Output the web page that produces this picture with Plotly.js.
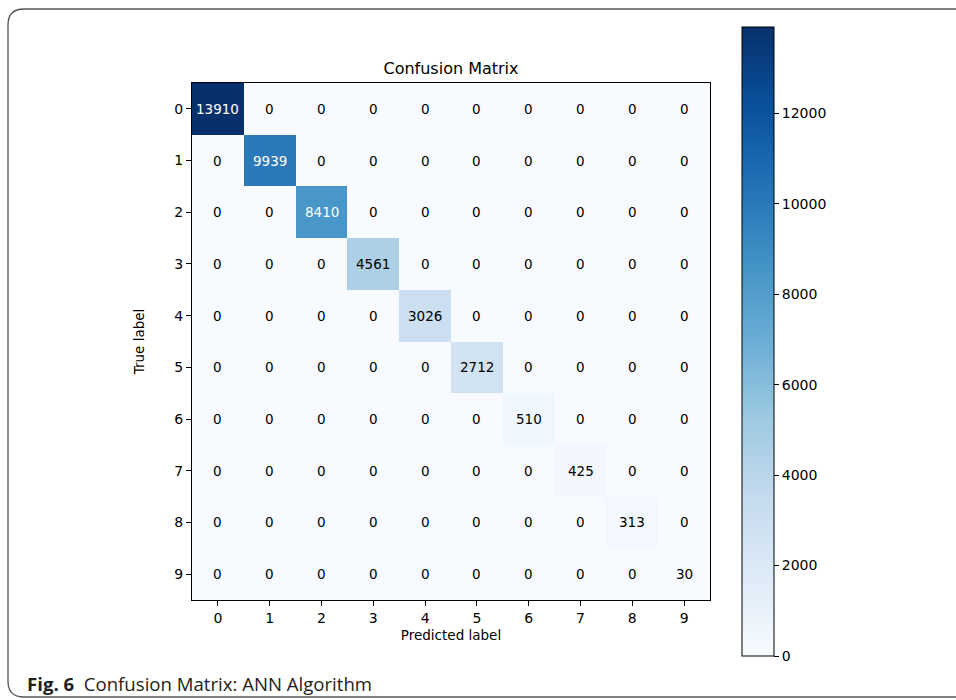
<!DOCTYPE html>
<html>
<head>
<meta charset="utf-8">
<script src="https://cdn.plot.ly/plotly-3.0.1.min.js"></script>
<style>
html,body{margin:0;padding:0;background:#fff;}
#chart{width:956px;height:700px;}
</style>
</head>
<body>
<div id="chart"></div>
<script>
const predictedLabels = [0,1,2,3,4,5,6,7,8,9];
const trueLabels = [0,1,2,3,4,5,6,7,8,9];
const diagonalCounts = [13910, 9939, 8410, 4561, 3026, 2712, 510, 425, 313, 30];
const colorbarTicks = [0, 2000, 4000, 6000, 8000, 10000, 12000];

// confusion matrix rows (true label) x columns (predicted label)
const matrix = trueLabels.map((t, i) => predictedLabels.map((p, j) => i === j ? diagonalCounts[i] : 0));

const zmax = Math.max(...diagonalCounts);
const thresh = zmax / 2;

const blues = [
  [0.0, '#f7fbff'], [0.125, '#deebf7'], [0.25, '#c6dbef'], [0.375, '#9ecae1'],
  [0.5, '#6baed6'], [0.625, '#4292c6'], [0.75, '#2171b5'], [0.875, '#08519c'], [1.0, '#08306b']
];

const annotations = [];
matrix.forEach((row, i) => row.forEach((v, j) => {
  annotations.push({
    x: predictedLabels[j], y: trueLabels[i], xref: 'x', yref: 'y',
    text: String(v), showarrow: false,
    font: {family: 'DejaVu Sans', size: 13.5, color: v > thresh ? '#ffffff' : '#000000'}
  });
}));

annotations.push({
  xref: 'paper', yref: 'paper', x: (25 - 192) / 518, y: (600 - 683) / 517,
  xanchor: 'left', yanchor: 'middle', showarrow: false,
  text: '<b>Fig. 6</b>  Confusion Matrix: ANN Algorithm',
  font: {family: 'Open Sans', size: 18.6, color: '#231f20'}
});

const px = x => (x - 192) / 518;
const py = y => (600 - y) / 517;
const L = px(8), T = py(9), B = py(697), R = px(990);
const rx = 16 / 518, ry = 16 / 517;
const borderPath = `M ${R} ${T} L ${L + rx} ${T} Q ${L} ${T} ${L} ${T - ry} L ${L} ${B + ry} Q ${L} ${B} ${L + rx} ${B} L ${R} ${B}`;

const trace = {
  type: 'heatmap',
  x: predictedLabels, y: trueLabels, z: matrix,
  zmin: 0, zmax: zmax,
  colorscale: blues, showscale: true, xgap: 0, ygap: 0,
  hoverinfo: 'z',
  colorbar: {
    x: px(742), xanchor: 'left', xref: 'paper', thickness: 32, thicknessmode: 'pixels',
    y: 0.5, yanchor: 'middle', len: (656 - 27) / 517, lenmode: 'fraction', ypad: 0, xpad: 0,
    outlinewidth: 1, outlinecolor: '#000',
    tickvals: colorbarTicks, ticktext: colorbarTicks.map(String),
    ticks: 'outside', ticklen: 5, tickcolor: '#000', tickwidth: 1,
    tickfont: {family: 'DejaVu Sans', size: 14, color: '#000'}
  }
};

const layout = {
  width: 956, height: 700,
  margin: {l: 192, r: 246, t: 83, b: 100},
  paper_bgcolor: '#fff', plot_bgcolor: '#fff',
  title: {text: 'Confusion Matrix', x: 451 / 956, xanchor: 'center', y: 1 - 68 / 700, yanchor: 'middle',
          font: {family: 'DejaVu Sans', size: 16, color: '#000'}},
  xaxis: {
    tickvals: predictedLabels, ticktext: predictedLabels.map(String),
    range: [-0.5, 9.5], showline: true, mirror: true, linecolor: '#000', linewidth: 1,
    ticks: 'outside', ticklen: 5, tickcolor: '#000', showgrid: false, zeroline: false,
    tickfont: {family: 'DejaVu Sans', size: 14, color: '#000'},
    title: {text: 'Predicted label', standoff: 5, font: {family: 'DejaVu Sans', size: 13.5, color: '#000'}}
  },
  yaxis: {
    tickvals: trueLabels, ticktext: trueLabels.map(String),
    range: [9.5, -0.5], showline: true, mirror: true, linecolor: '#000', linewidth: 1,
    ticks: 'outside', ticklen: 5, tickcolor: '#000', showgrid: false, zeroline: false,
    tickfont: {family: 'DejaVu Sans', size: 14, color: '#000'},
    title: {text: 'True label', standoff: 26, font: {family: 'DejaVu Sans', size: 13.5, color: '#000'}}
  },
  annotations: annotations,
  shapes: [{type: 'path', xref: 'paper', yref: 'paper', path: borderPath,
            line: {color: '#555', width: 1.3}, fillcolor: 'rgba(0,0,0,0)', layer: 'below'}]
};

Plotly.newPlot('chart', [trace], layout, {displayModeBar: false, staticPlot: true});
</script>
</body>
</html>
